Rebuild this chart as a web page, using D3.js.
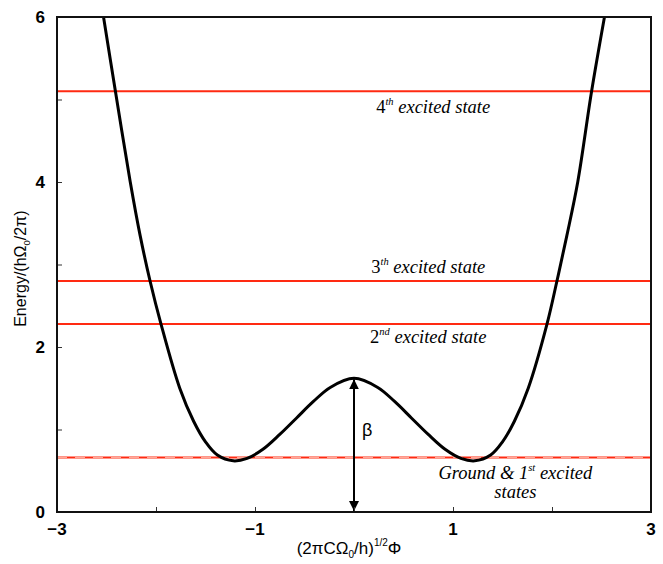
<!DOCTYPE html>
<html>
<head>
<meta charset="utf-8">
<script src="https://cdn.jsdelivr.net/npm/d3@7"></script>
<style>
  html, body { margin: 0; padding: 0; background: #fff; }
  svg { display: block; }
</style>
</head>
<body>
<script>
// Double-well potential (phase coordinate vs. energy), sampled along the curve
const potX = [-2.53, -2.41, -2.26, -2.16, -2.06, -1.95, -1.76, -1.62, -1.50, -1.38, -1.22, -1.08, -0.92, -0.75, -0.58, -0.41, -0.24, 0,
              0.24, 0.41, 0.58, 0.75, 0.92, 1.08, 1.22, 1.38, 1.50, 1.62, 1.76, 1.95, 2.05, 2.15, 2.26, 2.40, 2.53];
const potE = [6.0, 5.1, 4.0, 3.35, 2.8, 2.28, 1.5, 1.1, 0.85, 0.69, 0.62, 0.65, 0.76, 0.94, 1.14, 1.34, 1.51, 1.62,
              1.51, 1.34, 1.14, 0.94, 0.76, 0.65, 0.62, 0.69, 0.85, 1.1, 1.5, 2.28, 2.8, 3.35, 4.0, 5.1, 6.0];

// Energy levels
const levelE = [0.66, 2.28, 2.8, 5.1];
const levelOrdinal = ["1", "2", "3", "4"];
const levelSup = ["st", "nd", "th", "th"];

// Barrier height marker
const barrierTop = 1.62;

// Axis ticks
const xTicks = [-3, -2, -1, 0, 1, 2, 3];
const xTickLabels = [-3, -1, 1, 3];
const yTicks = [0, 1, 2, 3, 4, 5, 6];
const yTickLabels = [0, 2, 4, 6];

const W = 663, H = 564;
const margin = { left: 57, right: 12, top: 17, bottom: 52 };

const svg = d3.select("body").append("svg").attr("width", W).attr("height", H);

const x = d3.scaleLinear().domain([-3, 3]).range([margin.left, W - margin.right]);
const y = d3.scaleLinear().domain([0, 6]).range([H - margin.bottom, margin.top]);

const sans = "'Liberation Sans', Arial, Helvetica, sans-serif";
const serif = "'Liberation Serif', 'Times New Roman', serif";
const minus = v => (v < 0 ? "\u2212" + Math.abs(v) : String(v));

const defs = svg.append("defs");
defs.append("marker")
  .attr("id", "head")
  .attr("viewBox", "0 0 10 10")
  .attr("refX", 10).attr("refY", 5)
  .attr("markerWidth", 5).attr("markerHeight", 5)
  .attr("markerUnits", "strokeWidth")
  .attr("orient", "auto-start-reverse")
  .append("path").attr("d", "M0,0 L10,5 L0,10 Z").attr("fill", "#000");

// Energy level lines
const levels = svg.append("g");
levels.selectAll("line.level").data(levelE).join("line")
  .attr("class", "level")
  .attr("x1", x(-3)).attr("x2", x(3))
  .attr("y1", d => y(d)).attr("y2", d => y(d))
  .attr("stroke", "#ff2a12").attr("stroke-width", 2);
// nearly-degenerate ground / first excited pair drawn as an overlaid dashed line
levels.append("line")
  .attr("x1", x(-3)).attr("x2", x(3))
  .attr("y1", y(levelE[0])).attr("y2", y(levelE[0]))
  .attr("stroke", "#ffb0a0").attr("stroke-width", 1)
  .attr("stroke-dasharray", "10,8");

// Potential curve
const line = d3.line()
  .x((d, i) => x(potX[i]))
  .y(d => y(d))
  .curve(d3.curveCatmullRom.alpha(0.5));
svg.append("path")
  .attr("d", line(potE))
  .attr("fill", "none")
  .attr("stroke", "#000")
  .attr("stroke-width", 3)
  .attr("stroke-linejoin", "round");

// Barrier arrow
svg.append("line")
  .attr("x1", x(0)).attr("x2", x(0))
  .attr("y1", y(0) - 1).attr("y2", y(barrierTop) + 1)
  .attr("stroke", "#000").attr("stroke-width", 2)
  .attr("marker-start", "url(#head)")
  .attr("marker-end", "url(#head)");
svg.append("text")
  .attr("x", x(0) + 8).attr("y", y(1.0) + 2)
  .attr("font-family", sans).attr("font-size", 18)
  .attr("dominant-baseline", "middle")
  .text("\u03b2");

// Level labels
const labelSize = 18.5;
function levelLabel(px, py, ord, sup, rest) {
  const t = svg.append("text")
    .attr("x", px).attr("y", py)
    .attr("text-anchor", "middle")
    .attr("font-family", serif).attr("font-size", labelSize).attr("font-style", "italic");
  t.append("tspan").text(ord).attr("font-style", "normal");
  t.append("tspan").text(sup).attr("font-size", 10.5).attr("dy", -8);
  t.append("tspan").text(" " + rest).attr("dy", 8);
  return t;
}
levelLabel(x(0.8), y(levelE[3]) + 22, levelOrdinal[3], levelSup[3], "excited state");
levelLabel(x(0.75), y(levelE[2]) - 8, levelOrdinal[2], levelSup[2], "excited state");
levelLabel(x(0.75), y(levelE[1]) + 19, levelOrdinal[1], levelSup[1], "excited state");

const g1 = svg.append("text")
  .attr("x", x(1.63)).attr("y", y(levelE[0]) + 21)
  .attr("text-anchor", "middle")
  .attr("font-family", serif).attr("font-size", labelSize).attr("font-style", "italic");
g1.append("tspan").text("Ground & " + levelOrdinal[0]);
g1.append("tspan").text(levelSup[0]).attr("font-size", 10.5).attr("dy", -8);
g1.append("tspan").text(" excited").attr("dy", 8);
svg.append("text")
  .attr("x", x(1.63)).attr("y", y(levelE[0]) + 40)
  .attr("text-anchor", "middle")
  .attr("font-family", serif).attr("font-size", labelSize).attr("font-style", "italic")
  .text("states");

// Axes: ticks point inward
const xAxis = d3.axisBottom(x).tickValues(xTicks).tickSize(-5).tickFormat("");
const yAxis = d3.axisLeft(y).tickValues(yTicks).tickSize(-5).tickFormat("");
svg.append("g").attr("transform", `translate(0,${y(0)})`).call(xAxis)
  .call(g => g.select(".domain").remove())
  .call(g => g.selectAll("line").attr("stroke", "#333").attr("stroke-width", 1));
svg.append("g").attr("transform", `translate(${x(-3)},0)`).call(yAxis)
  .call(g => g.select(".domain").remove())
  .call(g => g.selectAll("line").attr("stroke", "#333").attr("stroke-width", 1));

// Frame
svg.append("rect")
  .attr("x", x(-3)).attr("y", y(6))
  .attr("width", x(3) - x(-3)).attr("height", y(0) - y(6))
  .attr("fill", "none").attr("stroke", "#111").attr("stroke-width", 2);

// Tick labels
svg.append("g").selectAll("text").data(xTickLabels).join("text")
  .attr("x", d => x(d)).attr("y", y(0) + 23)
  .attr("text-anchor", "middle")
  .attr("font-family", sans).attr("font-size", 17).attr("font-weight", "bold")
  .text(minus);
svg.append("g").selectAll("text").data(yTickLabels).join("text")
  .attr("x", x(-3) - 12).attr("y", d => y(d) + 6)
  .attr("text-anchor", "end")
  .attr("font-family", sans).attr("font-size", 17).attr("font-weight", "bold")
  .text(minus);

// Axis titles
const xt = svg.append("text")
  .attr("x", x(-0.05)).attr("y", 554)
  .attr("text-anchor", "middle")
  .attr("font-family", sans).attr("font-size", 17);
xt.append("tspan").text("(2\u03c0C\u03a9");
xt.append("tspan").text("0").attr("font-size", 10).attr("dy", 4);
xt.append("tspan").text("/h)").attr("dy", -4);
xt.append("tspan").text("1/2").attr("font-size", 10).attr("dy", -8);
xt.append("tspan").text("\u03a6").attr("dy", 8);

const yt = svg.append("text")
  .attr("transform", `translate(26,${y(2.95)}) rotate(-90)`)
  .attr("text-anchor", "middle")
  .attr("font-family", sans).attr("font-size", 16);
yt.append("tspan").text("Energy/(h\u03a9");
yt.append("tspan").text("0").attr("font-size", 9.5).attr("dy", 4);
yt.append("tspan").text("/2\u03c0)").attr("dy", -4);
</script>
</body>
</html>
